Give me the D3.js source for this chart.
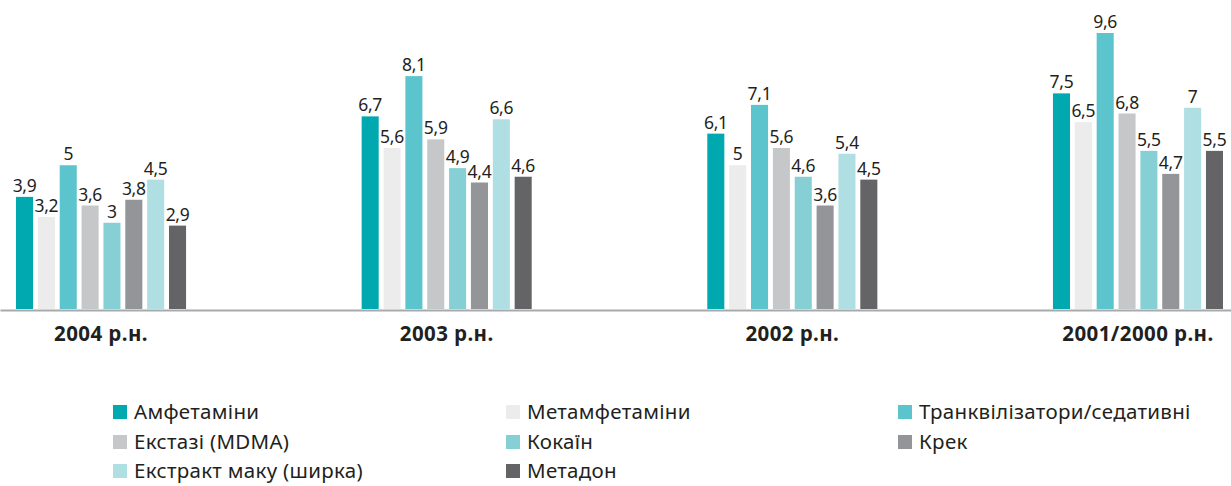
<!DOCTYPE html>
<html><head><meta charset="utf-8">
<script src="https://cdn.jsdelivr.net/npm/d3@7"></script>
<style>body{margin:0;background:#fff}svg{display:block}</style>
</head><body>
<svg id="c" width="1231" height="486"></svg>
<script>
const groups = ["2004 р.н.", "2003 р.н.", "2002 р.н.", "2001/2000 р.н."];
const series = ["Амфетаміни","Метамфетаміни","Транквілізатори/седативні","Екстазі (MDMA)","Кокаїн","Крек","Екстракт маку (ширка)","Метадон"];
const colors = ["#00a9b0","#ececec","#5bc4cc","#c6c7c9","#86d0d5","#939598","#b0dfe3","#646466"];
const v2004 = [3.9, 3.2, 5, 3.6, 3, 3.8, 4.5, 2.9];
const v2003 = [6.7, 5.6, 8.1, 5.9, 4.9, 4.4, 6.6, 4.6];
const v2002 = [6.1, 5, 7.1, 5.6, 4.6, 3.6, 5.4, 4.5];
const v2001 = [7.5, 6.5, 9.6, 6.8, 5.5, 4.7, 7, 5.5];
const values = [v2004, v2003, v2002, v2001];

const svg = d3.select("#c");
const baseY = 309;
const x0 = d3.scaleBand().domain(groups).range([16, 1223]).paddingInner(0.508).paddingOuter(0);
const x1 = d3.scaleBand().domain(series).range([0, x0.bandwidth()]).paddingInner(0.22);
const y = d3.scaleLinear().domain([0, 10]).range([baseY, baseY - 287.5]);
const fmt = v => String(v).replace(".", ",");

const g = svg.selectAll("g.grp").data(groups).join("g").attr("class","grp")
  .attr("transform", d => `translate(${x0(d)},0)`);
g.each(function(gn, gi){
  const sel = d3.select(this);
  const data = series.map((s, i) => ({s, v: values[gi][i], c: colors[i]}));
  sel.selectAll("rect").data(data).join("rect")
    .attr("x", d => x1(d.s)).attr("width", x1.bandwidth())
    .attr("y", d => y(d.v)).attr("height", d => y(0) - y(d.v))
    .attr("fill", d => d.c);
  sel.selectAll("text.val").data(data).join("text").attr("class","val")
    .attr("x", d => x1(d.s) + x1.bandwidth()/2).attr("y", d => y(d.v) - 5)
    .attr("text-anchor","middle").attr("font-family","Noto Sans").attr("font-size",17.5)
    .attr("letter-spacing","-0.3").attr("fill","#231f20").text(d => fmt(d.v));
});

// baseline axis
const ax = d3.axisBottom(d3.scaleLinear().range([0,1231])).ticks(0).tickSize(0).tickFormat("");
svg.append("g").attr("transform",`translate(0,${baseY + 1})`).call(ax)
  .select(".domain").attr("stroke","#a7a9ac").attr("stroke-width",2);

// category labels
svg.selectAll("text.cat").data(groups).join("text").attr("class","cat")
  .attr("x", d => x0(d) + x0.bandwidth()/2).attr("y", 341)
  .attr("text-anchor","middle").attr("font-family","Noto Sans").attr("font-weight","bold")
  .attr("font-size",20.5).attr("letter-spacing","0.4").attr("fill","#231f20").text(d => d);

// legend
const colX = [113, 506, 898];
const rowY = [405, 435, 464];
const lg = svg.selectAll("g.lg").data(series).join("g").attr("class","lg")
  .attr("transform", (d,i) => `translate(${colX[i%3]},${rowY[Math.floor(i/3)]})`);
lg.append("rect").attr("width",14).attr("height",14).attr("fill",(d,i)=>colors[i]);
lg.append("text").attr("x",21).attr("y",14).attr("font-family","Noto Sans").attr("font-size",20.5)
  .attr("letter-spacing","0.3").attr("fill","#231f20").text(d=>d);
</script>
</body></html>
